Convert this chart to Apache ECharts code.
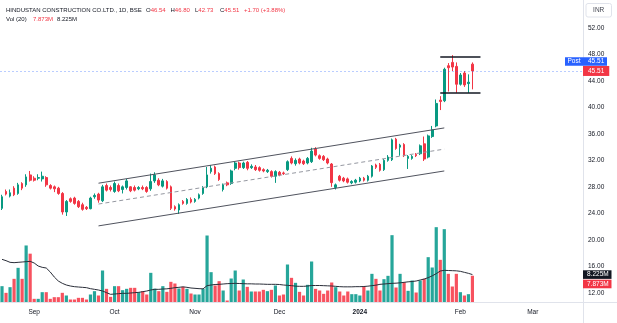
<!DOCTYPE html>
<html>
<head>
<meta charset="utf-8">
<script src="https://cdn.jsdelivr.net/npm/echarts@6/dist/echarts.min.js"></script>
<style>
  html, body { margin: 0; padding: 0; background: #ffffff; }
  #chart { width: 617px; height: 323px; }
</style>
</head>
<body>
<div id="chart"></div>
<script>
// Daily bars, HCC on BSE (Aug 2023 .. Feb 2024), prices in INR
const opens = [
  24.75, 27.3, 26.6, 27.8, 27.0, 28.5, 28.3, 29.8, 29.3, 29.3,
  29.2, 29.4, 28.2, 28.0, 27.8, 27.0, 24.2, 26.2, 26.3, 25.8,
  25.3, 24.9, 24.7, 26.5, 26.9, 25.9, 28.2, 27.9, 27.3, 28.2,
  27.6, 27.9, 28.0, 27.9, 27.7, 27.9, 27.9, 27.7, 28.9, 29.0,
  28.1, 28.8, 28.0, 25.0, 24.5, 25.8, 25.5, 26.1, 25.8, 26.3,
  27.0, 28.0, 30.3, 31.0, 30.0, 27.6, 28.6, 28.5, 30.8, 31.6,
  30.9, 31.7, 30.9, 31.0, 30.9, 30.6, 30.3, 30.3, 29.6, 30.2,
  30.1, 30.6, 32.3, 31.5, 32.2, 31.9, 31.6, 31.8, 33.7, 32.7,
  32.6, 32.2, 31.45, 27.9, 29.6, 29.3, 29.2, 28.6, 28.7, 28.9,
  29.3, 29.0, 29.6, 31.3, 31.4, 30.6, 32.0, 32.1, 35.2, 34.0,
  34.4, 32.3, 32.3, 32.9, 33.0, 34.5, 32.5, 35.6, 37.2, 41.1,
  41.0, 46.3, 46.8, 46.2, 43.5, 45.2, 43.6, 46.54
];
const closes = [
  26.5, 26.9, 27.1, 26.8, 28.3, 27.8, 29.5, 29.0, 29.0, 29.4,
  29.6, 28.3, 27.8, 27.7, 27.0, 24.2, 25.8, 25.8, 25.5, 25.0,
  24.6, 24.7, 26.3, 26.7, 26.0, 28.0, 27.5, 27.6, 28.5, 27.4,
  28.0, 28.9, 27.4, 27.5, 27.9, 27.7, 27.3, 28.8, 29.8, 28.3,
  28.9, 27.8, 24.75, 24.65, 25.3, 25.5, 26.1, 25.7, 26.1, 26.8,
  27.9, 29.8, 30.8, 30.0, 29.1, 28.3, 28.3, 30.4, 31.6, 30.9,
  31.6, 30.8, 31.1, 30.6, 30.5, 30.4, 30.5, 29.6, 30.3, 29.8,
  30.0, 31.8, 31.6, 32.0, 31.6, 31.5, 32.3, 33.4, 32.8, 32.3,
  32.1, 31.6, 28.63, 28.3, 29.0, 28.9, 28.7, 28.8, 29.0, 29.3,
  29.0, 29.6, 31.15, 30.95, 30.5, 32.0, 32.5, 35.1, 33.8, 34.3,
  32.7, 32.6, 32.6, 32.7, 34.2, 32.2, 35.7, 36.6, 40.6, 40.9,
  45.76, 46.0, 46.1, 43.5, 44.9, 43.4, 43.81, 45.51
];
const lows = [
  24.5, 26.7, 26.4, 26.6, 26.8, 27.5, 28.0, 28.8, 28.8, 29.0,
  28.8, 28.0, 27.6, 27.2, 26.8, 23.8, 23.6, 25.6, 25.3, 24.8,
  24.4, 24.5, 24.6, 26.2, 25.6, 25.7, 27.3, 27.3, 27.1, 27.2,
  27.0, 27.6, 27.2, 27.3, 27.5, 27.5, 27.1, 27.4, 28.6, 28.1,
  27.9, 27.6, 24.5, 24.4, 23.9, 25.3, 25.3, 25.5, 25.6, 26.1,
  26.8, 27.8, 30.0, 29.8, 28.9, 27.3, 28.1, 28.3, 30.5, 30.6,
  30.7, 30.5, 30.7, 30.4, 30.3, 30.2, 30.1, 29.4, 28.6, 29.6,
  29.8, 30.4, 31.4, 31.2, 31.4, 31.3, 31.4, 31.6, 32.6, 32.1,
  31.9, 31.4, 28.0, 27.6, 28.8, 28.7, 28.5, 28.4, 28.5, 28.7,
  28.8, 28.8, 29.4, 30.7, 30.3, 30.4, 31.8, 31.9, 33.6, 32.7,
  32.5, 30.7, 32.1, 32.5, 32.8, 31.9, 32.3, 35.4, 37.0, 39.6,
  40.8, 42.4, 45.5, 42.2, 43.3, 43.1, 42.2, 42.73
];
const highs = [
  26.8, 27.6, 27.6, 28.1, 28.6, 28.7, 29.9, 30.4, 29.6, 29.9,
  30.3, 29.6, 28.4, 28.2, 28.0, 27.2, 26.0, 26.4, 26.5, 26.0,
  25.6, 25.1, 26.5, 27.0, 27.1, 28.3, 28.5, 28.2, 28.8, 28.5,
  28.2, 29.2, 28.1, 28.2, 28.1, 28.2, 28.1, 30.0, 30.2, 29.3,
  29.2, 29.0, 28.2, 25.2, 25.5, 26.0, 26.3, 26.4, 26.3, 27.0,
  28.1, 31.0, 31.3, 31.2, 30.2, 28.5, 28.8, 30.6, 31.8, 31.8,
  31.8, 31.9, 31.4, 31.3, 31.1, 30.8, 30.7, 30.5, 30.5, 30.4,
  30.3, 32.0, 32.6, 32.3, 32.4, 32.1, 32.5, 33.9, 34.0, 32.9,
  32.8, 32.4, 31.6, 28.5, 29.8, 29.5, 29.4, 29.0, 29.2, 29.5,
  29.5, 29.8, 31.3, 31.5, 31.6, 32.2, 32.8, 35.3, 35.4, 34.5,
  34.6, 32.8, 32.8, 33.1, 34.4, 35.6, 35.9, 37.2, 41.2, 41.7,
  46.0, 46.7, 47.9, 46.8, 45.2, 45.5, 45.0, 46.80
];
// traded volume, millions of shares
const volumes = [
  4.75, 2.75, 4.45, 6.95, 10.25, 6.95, 16.96, 14.5, 0.95, 0.95,
  2.95, 2.95, 0.95, 1.45, 1.45, 2.75, 1.95, 0.75, 0.75, 1.25,
  1.25, 0.75, 2.25, 3.25, 1.95, 9.45, 3.95, 1.55, 4.75, 4.75,
  3.55, 3.95, 4.25, 4.25, 2.95, 3.25, 2.25, 8.75, 4.0, 3.25,
  4.75, 3.05, 6.05, 5.55, 4.05, 4.55, 3.95, 2.55, 2.25, 2.25,
  3.95, 19.95, 8.95, 4.95, 6.25, 3.45, 0.45, 7.05, 9.45, 3.45,
  6.75, 4.55, 3.15, 3.15, 3.15, 3.65, 3.25, 3.65, 4.95, 1.95,
  2.25, 11.25, 7.25, 5.75, 3.05, 1.95, 5.15, 12.15, 3.95, 3.45,
  2.45, 3.45, 5.85, 4.45, 3.15, 1.95, 3.15, 2.35, 2.35, 1.95,
  4.65, 3.45, 8.45, 6.95, 3.45, 6.85, 7.85, 20.05, 4.35, 8.45,
  5.95, 3.35, 6.45, 2.85, 6.45, 6.95, 13.45, 10.35, 22.45, 12.65,
  21.85, 8.45, 4.65, 8.45, 2.95, 1.95, 2.35, 7.873
];
// 20-day volume average, millions
const volumeMA = [
  12.8, 12.4, 11.9, 11.8, 11.9, 12.0, 12.1, 12.2, 11.7, 10.8,
  10.4, 10.2, 9.0, 7.5, 6.3, 5.6, 5.1, 4.8, 4.6, 4.5,
  4.4, 4.3, 4.0, 3.8, 3.6, 3.3, 2.8, 2.3, 2.4, 2.5,
  2.6, 2.6, 2.7, 2.8, 2.9, 3.1, 3.3, 3.6, 3.8, 3.8,
  3.9, 3.95, 4.1, 4.3, 4.4, 4.55, 4.4, 4.2, 4.1, 4.0,
  3.95, 4.9, 5.1, 5.25, 5.3, 5.4, 5.5, 5.55, 5.6, 5.55,
  5.5, 5.45, 5.45, 5.4, 5.4, 5.35, 5.3, 5.3, 5.3, 5.25,
  5.1, 5.0, 4.9, 4.75, 4.7, 4.7, 4.8, 4.95, 4.95, 4.95,
  4.9, 4.85, 4.8, 4.7, 4.6, 4.55, 4.55, 4.55, 4.6, 4.6,
  4.65, 4.75, 4.9, 5.05, 5.3, 5.4, 5.5, 5.6, 5.65, 5.75,
  5.9, 6.05, 6.15, 6.3, 6.6, 6.9, 7.3, 7.85, 8.5, 9.3,
  9.5, 9.45, 9.4, 9.35, 9.2, 8.9, 8.6, 8.225
];
// time axis: bar slot of each month label
const tickIndex = [8, 28, 48, 69, 89, 114, 132];
const tickText = ['Sep', 'Oct', 'Nov', 'Dec', '2024', 'Feb', 'Mar'];
const slotCount = 145;           // traded bars plus empty future slots

// drawn trend channel (bar slot, price)
const channelSlots = [24, 110];
const channelUpper = [28.55, 36.9];
const channelMiddle = [25.4, 33.7];
const channelLower = [22.1, 30.4];
// consolidation range after the breakout
const rangeSlots = [109, 119];
const rangeTop = 47.6;
const rangeBottom = 42.15;

const FONT = 'Liberation Sans';
const TEXT = '#131722';
const UP = '#089981', DOWN = '#F23645';
const VOL_UP = '#26a69a', VOL_DOWN = '#f7525f';

const slots = Array.from({ length: slotCount }, (_, i) => String(i));
const candles = opens.map((o, i) => [o, closes[i], lows[i], highs[i]]);
const volBars = volumes.map((v, i) => ({
  value: v,
  itemStyle: { color: closes[i] >= opens[i] ? VOL_UP : VOL_DOWN }
}));
const last = closes.length - 1;
const lastClose = closes[last];
const change = lastClose - closes[last - 1];
const changePct = change / closes[last - 1] * 100;

function seg(x0, y0, x1, y1, style) {
  return [
    { coord: [x0, y0], lineStyle: style },
    { coord: [x1, y1] }
  ];
}
const solidGrey = { color: '#50535e', width: 1, type: 'solid' };
const dashedGrey = { color: '#9598a1', width: 1, type: [4, 3] };
const boxLine = { color: '#131722', width: 1.5, type: 'solid' };

const chart = echarts.init(document.getElementById('chart'), null, { renderer: 'canvas' });

chart.setOption({
  animation: false,
  backgroundColor: '#ffffff',
  textStyle: { fontFamily: FONT },
  grid: [
    { left: 0, right: 34, top: 1.53, bottom: 3.8 },
    { left: 0, right: 34, top: 202, bottom: 21 }
  ],
  xAxis: [
    { type: 'category', gridIndex: 0, data: slots, boundaryGap: true, show: false },
    {
      type: 'category', gridIndex: 1, data: slots, boundaryGap: true,
      axisLine: { show: false }, axisTick: { show: false }, splitLine: { show: false },
      axisLabel: {
        interval: (index) => tickIndex.includes(index),
        formatter: (value) => {
          const k = tickIndex.indexOf(Number(value));
          if (k < 0) return '';
          return tickText[k] === '2024' ? '{b|2024}' : tickText[k];
        },
        margin: 7, fontSize: 6.5, color: TEXT, fontFamily: FONT,
        rich: { b: { fontWeight: 'bold', fontSize: 6.5, color: TEXT, fontFamily: FONT } }
      }
    }
  ],
  yAxis: [
    {
      type: 'value', gridIndex: 0, position: 'right', min: 8, max: 56, interval: 4,
      axisLine: { show: false }, axisTick: { show: false }, splitLine: { show: false },
      axisLabel: {
        margin: 5, fontSize: 6.5, color: TEXT, fontFamily: FONT,
        formatter: (v) => (v <= 8 || v >= 56) ? '' : v.toFixed(2)
      }
    },
    { type: 'value', gridIndex: 1, min: 0, max: 30, show: false }
  ],
  series: [
    {
      name: 'HCC',
      type: 'candlestick',
      xAxisIndex: 0, yAxisIndex: 0,
      data: candles,
      barWidth: 2.2,
      itemStyle: { color: UP, color0: DOWN, borderColor: UP, borderColor0: DOWN, borderWidth: 1 },
      markLine: {
        silent: true,
        symbol: ['none', 'none'],
        label: { show: false },
        data: [
          seg(channelSlots[0], channelUpper[0], channelSlots[1], channelUpper[1], solidGrey),
          seg(channelSlots[0], channelMiddle[0], channelSlots[1], channelMiddle[1], dashedGrey),
          seg(channelSlots[0], channelLower[0], channelSlots[1], channelLower[1], solidGrey),
          seg(rangeSlots[0], rangeTop, rangeSlots[1], rangeTop, boxLine),
          seg(rangeSlots[0], rangeBottom, rangeSlots[1], rangeBottom, boxLine),
          {
            yAxis: lastClose,
            lineStyle: { type: [2, 2], color: 'rgba(41,98,255,0.32)', width: 1 },
            label: {
              show: true, position: 'end', distance: 0,
              formatter: lastClose.toFixed(2),
              color: '#ffffff', backgroundColor: DOWN,
              padding: [2, 5, 1, 5], fontSize: 6.5, fontFamily: FONT
            }
          }
        ]
      }
    },
    {
      name: 'Volume',
      type: 'bar',
      xAxisIndex: 1, yAxisIndex: 1,
      data: volBars,
      barWidth: 3.2
    },
    {
      name: 'Vol MA 20',
      type: 'line',
      xAxisIndex: 1, yAxisIndex: 1,
      data: volumeMA,
      symbol: 'none',
      lineStyle: { color: '#2a2e39', width: 1 }
    }
  ]
});

// header, scale badges and pane borders
const yPrice = chart.convertToPixel({ yAxisIndex: 0 }, lastClose);
const yMA = chart.convertToPixel({ yAxisIndex: 1 }, volumeMA[last]);
const small = { fontSize: 6.5, fontFamily: FONT };
const legendFont = { fontSize: 6, fontFamily: FONT };

function legendText(x, y, rich, text) {
  return {
    type: 'text', x: x, y: y,
    style: Object.assign({ text: text, verticalAlign: 'middle', rich: rich }, legendFont, { fill: TEXT })
  };
}
const richOHLC = {
  k: Object.assign({ fill: TEXT }, legendFont),
  v: Object.assign({ fill: DOWN }, legendFont)
};

chart.setOption({
  graphic: [
    { type: 'line', shape: { x1: 583.5, y1: 0, x2: 583.5, y2: 323 }, style: { stroke: '#e0e3eb', lineWidth: 1 }, z: 0 },
    { type: 'line', shape: { x1: 0, y1: 302.5, x2: 617, y2: 302.5 }, style: { stroke: '#e0e3eb', lineWidth: 1 }, z: 0 },

    legendText(6, 10, null, 'HINDUSTAN CONSTRUCTION CO.LTD., 1D, BSE'),
    legendText(146, 10, richOHLC, '{k|O}{v|' + opens[last].toFixed(2) + '}'),
    legendText(170.5, 10, richOHLC, '{k|H}{v|' + highs[last].toFixed(2) + '}'),
    legendText(195, 10, richOHLC, '{k|L}{v|' + lows[last].toFixed(2) + '}'),
    legendText(220, 10, richOHLC, '{k|C}{v|' + lastClose.toFixed(2) + '}'),
    legendText(244, 10, richOHLC, '{v|+' + change.toFixed(2) + ' (+' + changePct.toFixed(2) + '%)}'),
    legendText(6, 19.5, null, 'Vol (20)'),
    legendText(33, 19.5, richOHLC, '{v|' + volumes[last].toFixed(3) + 'M}'),
    legendText(57, 19.5, null, volumeMA[last].toFixed(3) + 'M'),

    {
      type: 'rect', shape: { x: 586, y: 3.5, width: 25.5, height: 13.5, r: 2 },
      style: { fill: '#ffffff', stroke: '#e0e3eb', lineWidth: 1 }
    },
    {
      type: 'text', x: 598.7, y: 10.3,
      style: Object.assign({ text: 'INR', fill: '#434651', align: 'center', verticalAlign: 'middle' }, small)
    },

    {
      type: 'rect', shape: { x: 565, y: yPrice - 13.8, width: 42, height: 8.6 },
      style: { fill: '#2962ff' }, z: 10
    },
    {
      type: 'text', x: 574, y: yPrice - 9.5, z: 11,
      style: Object.assign({ text: 'Post', fill: '#ffffff', align: 'center', verticalAlign: 'middle' }, small)
    },
    {
      type: 'text', x: 588, y: yPrice - 9.5, z: 11,
      style: Object.assign({ text: lastClose.toFixed(2), fill: '#ffffff', verticalAlign: 'middle' }, small)
    },

    {
      type: 'rect', shape: { x: 583, y: yMA - 4.3, width: 28.5, height: 8.6 },
      style: { fill: '#131722' }, z: 10
    },
    {
      type: 'text', x: 587, y: yMA, z: 11,
      style: Object.assign({ text: volumeMA[last].toFixed(3) + 'M', fill: '#ffffff', verticalAlign: 'middle' }, small)
    },
    {
      type: 'rect', shape: { x: 583, y: yMA + 5.1, width: 28.5, height: 8.6 },
      style: { fill: DOWN }, z: 10
    },
    {
      type: 'text', x: 587, y: yMA + 9.4, z: 11,
      style: Object.assign({ text: volumes[last].toFixed(3) + 'M', fill: '#ffffff', verticalAlign: 'middle' }, small)
    }
  ]
});
</script>
</body>
</html>
